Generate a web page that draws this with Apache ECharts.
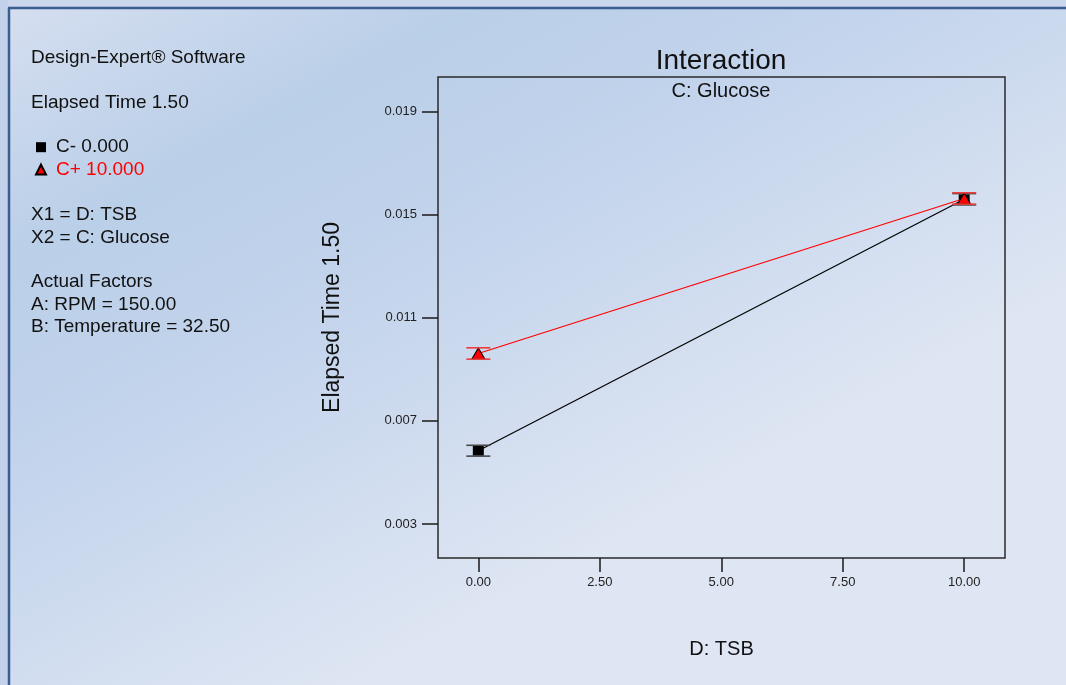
<!DOCTYPE html>
<html>
<head>
<meta charset="utf-8">
<title>Interaction</title>
<script src="https://cdn.jsdelivr.net/npm/echarts@6/dist/echarts.min.js"></script>
<style>
  html, body { margin: 0; padding: 0; }
  #chart { width: 1066px; height: 685px; }
</style>
</head>
<body>
<div id="chart"></div>
<script>
// D: TSB levels
const tsbLevels = [0, 10]
// predicted Elapsed Time 1.50 for each glucose level
const glucoseLow = [0.00584, 0.01559]
const glucoseHigh = [0.00961, 0.01562]
// half width of the LSD bars
const glucoseLowErr = [0.00021, 0.00022]
const glucoseHighErr = [0.00022, 0.00022]

const yTicks = [0.003, 0.007, 0.011, 0.015, 0.019]
const xTicks = [0, 2.5, 5, 7.5, 10]

const seriesNames = ['C- 0.000', 'C+ 10.000']
// left side notes, blank lines keep room for the legend
const infoLines = [
  'Design-Expert® Software',
  '',
  'Elapsed Time 1.50',
  '',
  '',
  '',
  '',
  'X1 = D: TSB',
  'X2 = C: Glucose',
  '',
  'Actual Factors',
  'A: RPM = 150.00',
  'B: Temperature = 32.50',
]

const FONT = "'Liberation Sans', Arial, sans-serif"

const chart = echarts.init(document.getElementById('chart'))

function points(ys) {
  return tsbLevels.map((x, i) => [x, ys[i]])
}

function bars(ys, errs) {
  return tsbLevels.map((x, i) => [x, ys[i] - errs[i], ys[i] + errs[i]])
}

function capRenderer(color) {
  return function (params, api) {
    const x = api.value(0)
    const lo = api.coord([x, api.value(1)])
    const hi = api.coord([x, api.value(2)])
    const half = 12
    const style = { stroke: color, lineWidth: 1.6 }
    return {
      type: 'group',
      children: [
        { type: 'line', shape: { x1: lo[0] - half, y1: lo[1], x2: lo[0] + half, y2: lo[1] }, style },
        { type: 'line', shape: { x1: hi[0] - half, y1: hi[1], x2: hi[0] + half, y2: hi[1] }, style },
      ],
    }
  }
}

const option = {
  backgroundColor: {
    type: 'linear', x: 0, y: 0, x2: 0.35, y2: 1,
    colorStops: [
      { offset: 0, color: '#d6dff0' },
      { offset: 0.3, color: '#bacfe8' },
      { offset: 0.55, color: '#c3d4ec' },
      { offset: 1, color: '#dfe6f3' },
    ],
  },
  animation: false,
  textStyle: { fontFamily: FONT },
  title: [
    {
      text: 'Interaction',
      left: 721, top: 47, textAlign: 'center', padding: 0,
      textStyle: { fontSize: 28, fontWeight: 'normal', color: '#111', fontFamily: FONT },
    },
    {
      text: 'C: Glucose',
      left: 721, top: 81, textAlign: 'center', padding: 0,
      textStyle: { fontSize: 20, fontWeight: 'normal', color: '#111', fontFamily: FONT },
    },
  ],
  legend: {
    orient: 'vertical',
    left: 35, top: 136, padding: 0,
    itemWidth: 10, itemHeight: 10, itemGap: 0,
    selectedMode: false,
    textStyle: { fontSize: 19, lineHeight: 22.4, fontFamily: FONT, padding: [0, 0, 0, 5] },
    data: [
      { name: seriesNames[0], icon: 'rect', textStyle: { color: '#111' } },
      { name: seriesNames[1], icon: 'triangle', textStyle: { color: '#ff0000' } },
    ],
  },
  grid: {
    left: 438, top: 77, width: 567, height: 481,
    show: true, borderColor: '#2a2a2a', borderWidth: 1.5, backgroundColor: 'transparent',
  },
  xAxis: {
    type: 'value', min: -0.83, max: 10.84,
    name: 'D: TSB', nameLocation: 'middle', nameGap: 81,
    nameTextStyle: { fontSize: 20, color: '#111', fontFamily: FONT },
    axisLine: { show: false, onZero: false },
    splitLine: { show: false },
    axisTick: { show: true, length: 14, customValues: xTicks, lineStyle: { color: '#1a1a1a', width: 1.5 } },
    axisLabel: {
      customValues: xTicks, margin: 18, fontSize: 13, color: '#222', fontFamily: FONT,
      formatter: v => v.toFixed(2),
    },
  },
  yAxis: {
    type: 'value', min: 0.00168, max: 0.02033,
    name: 'Elapsed Time 1.50', nameLocation: 'middle', nameGap: 94, nameRotate: 90,
    nameTextStyle: { fontSize: 23, color: '#111', fontFamily: FONT },
    axisLine: { show: false, onZero: false },
    splitLine: { show: false },
    axisTick: { show: true, length: 16, customValues: yTicks, lineStyle: { color: '#1a1a1a', width: 1.5 } },
    axisLabel: {
      customValues: yTicks, margin: 21, fontSize: 13, color: '#222', fontFamily: FONT,
      formatter: v => v.toFixed(3),
    },
  },
  graphic: [
    // outer strip and frame
    { type: 'rect', shape: { x: 0, y: 0, width: 1066, height: 7 }, style: { fill: '#cbd7ec' }, z: -1 },
    { type: 'rect', shape: { x: 0, y: 0, width: 8, height: 685 }, style: { fill: '#c3d2ea' }, z: -1 },
    { type: 'line', shape: { x1: 8, y1: 8, x2: 1066, y2: 8 }, style: { stroke: '#3b5d91', lineWidth: 2.5 } },
    { type: 'line', shape: { x1: 9, y1: 8, x2: 9, y2: 685 }, style: { stroke: '#3b5d91', lineWidth: 2.5 } },
    {
      type: 'text', left: 31, top: 47,
      style: { text: infoLines.join('\n'), fontSize: 19, lineHeight: 22.4, fill: '#111', font: '19px ' + FONT },
    },
  ],
  series: [
    {
      name: seriesNames[0] + ' bars', type: 'custom', z: 3,
      renderItem: capRenderer('#484848'),
      encode: { x: 0, y: [1, 2] },
      data: bars(glucoseLow, glucoseLowErr),
    },
    {
      name: seriesNames[0], type: 'line', z: 2,
      data: points(glucoseLow),
      symbol: 'rect', symbolSize: [11, 10],
      itemStyle: { color: '#000' },
      lineStyle: { color: '#000', width: 1.2 },
    },
    {
      name: seriesNames[1], type: 'line', z: 4,
      data: points(glucoseHigh),
      symbol: 'triangle', symbolSize: [13, 11],
      itemStyle: { color: '#ff0000', borderColor: '#000', borderWidth: 1 },
      lineStyle: { color: '#ff0000', width: 1.2 },
    },
    {
      name: seriesNames[1] + ' bars', type: 'custom', z: 5,
      renderItem: capRenderer('#ee3b3b'),
      encode: { x: 0, y: [1, 2] },
      data: bars(glucoseHigh, glucoseHighErr),
    },
  ],
}

chart.setOption(option)
window.addEventListener('resize', () => chart.resize())
</script>
</body>
</html>
